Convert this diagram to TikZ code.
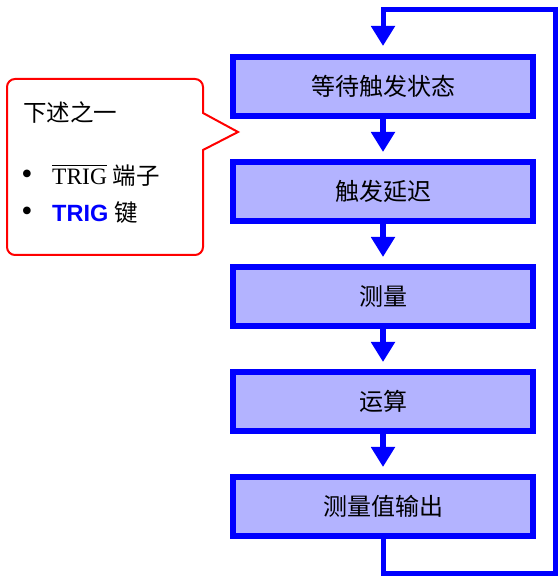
\documentclass[tikz,border=0pt]{standalone}
\usepackage{fontspec}
\setmainfont{Liberation Serif}
\newfontfamily\cjk{Noto Sans CJK SC}
\newfontfamily\arial{Liberation Sans}
\usepackage{tikz}
\usetikzlibrary{arrows.meta, positioning}
\usepackage{xcolor}
\definecolor{flowblue}{RGB}{0,0,255}
\definecolor{flowfill}{RGB}{179,179,255}
\definecolor{notered}{RGB}{255,0,0}
\newcommand{\barred}[1]{\vbox{\hrule height 1.5pt\kern 3pt\hbox{#1}}}
\tikzstyle{stage}  = [rectangle, draw=flowblue, line width=6pt, fill=flowfill, minimum width=300pt, minimum height=59pt, outer sep=0pt, text centered, font=\cjk\fontsize{24}{28}\selectfont]
\tikzstyle{flow}   = [draw=flowblue, line width=6pt, -{Triangle[width=23pt,length=20pt]}, shorten >=10pt]
\tikzstyle{loopback} = [draw=flowblue, line width=5pt, -{Triangle[width=23pt,length=20pt]}, shorten >=11pt]
\tikzstyle{bubble} = [draw=notered, line width=2pt]
\tikzstyle{note}   = [inner sep=0pt, font=\fontsize{23.5}{27}\selectfont]
\tikzstyle{dot}    = [inner sep=0pt, anchor=base, font=\fontsize{32}{32}\selectfont]

\begin{document}
\begin{tikzpicture}[x=1pt, y=1pt]
  \useasboundingbox (0,0) rectangle (559,577);

  % Stages
  \node[stage] (wait) at (383,490.5) {等待触发状态};
  \node[stage, below=46pt of wait] (delay) {触发延迟};
  \node[stage, below=46pt of delay] (measure) {测量};
  \node[stage, below=46pt of measure] (calc) {运算};
  \node[stage, below=46pt of calc] (output) {测量值输出};

  % Flows
  \draw[flow] (wait) -- (delay);
  \draw[flow] (delay) -- (measure);
  \draw[flow] (measure) -- (calc);
  \draw[flow] (calc) -- (output);

  % Loop back to the start
  \coordinate (loopbot) at (555,3);
  \coordinate (looptop) at (555,567);
  \draw[loopback] (output.south) |- (loopbot) -- (looptop) -| (wait.north);

  % Trigger note
  \draw[bubble] (7,410) [rounded corners=8pt] |- (203,498)
    [sharp corners] -- (203,464) -- (238,445) -- (203,427) -- (203,400)
    [rounded corners=8pt] |- (7,322) -- cycle;
  \node[note, anchor=west] (heading) at (23,464.5) {\cjk 下述之一};
  \node[dot] (dot1) at (27,392) {•};
  \node[note, anchor=base west] (item1) at (52,392) {\barred{TRIG} {\cjk 端子}};
  \node[dot] (dot2) at (27,355) {•};
  \node[note, anchor=base west] (item2) at (52,355) {{\color{flowblue}\arial\bfseries TRIG} {\cjk 键}};
\end{tikzpicture}
\end{document}
